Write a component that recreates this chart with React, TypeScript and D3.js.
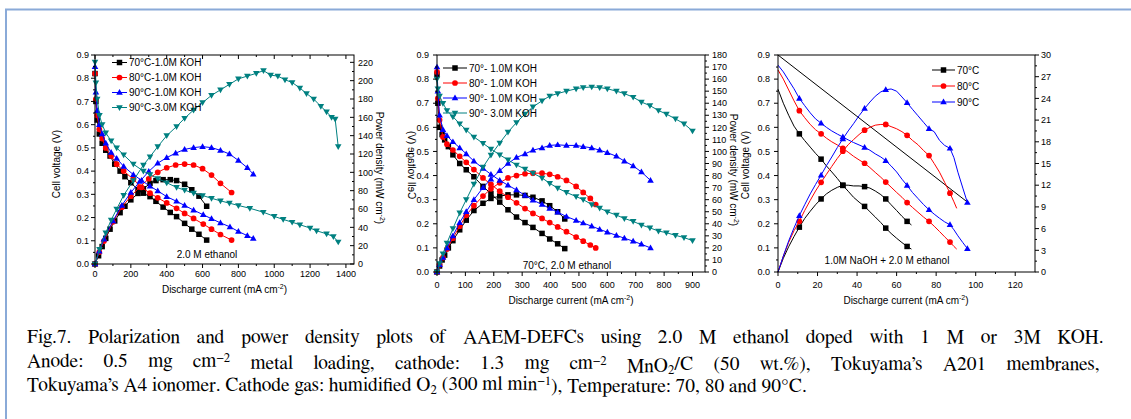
import React, { useLayoutEffect, useRef, useState } from "react";
import * as d3 from "d3";

type Pt = [number, number];
type MarkerKind = "square" | "circle" | "up" | "down";
type Seg = [string, "n" | "sup" | "sub"];

// ---------------- Panel 1 (2.0 M ethanol) ----------------
const P1_X_TICKS = [0, 200, 400, 600, 800, 1000, 1200, 1400];
const P1_P_TICKS = [0, 20, 40, 60, 80, 100, 120, 140, 160, 180, 200, 220];
const P1_LABELS = ["70°C-1.0M KOH", "80°C-1.0M KOH", "90°C-1.0M KOH", "90°C-3.0M KOH"];

const P1_70_V: Pt[] = [[0,0.82],[5,0.70],[12,0.62],[24,0.56],[40,0.52],[60,0.49],[84,0.465],[110,0.43],[140,0.40],[167,0.376],[200,0.35],[240,0.32],[270,0.305],[307,0.29],[340,0.27],[380,0.245],[420,0.222],[455,0.204],[500,0.175],[540,0.15],[580,0.128],[623,0.103]];
const P1_70_P: Pt[] = [[0,0],[20,9],[40,19],[60,28],[84,38],[110,47],[140,56],[167,63],[200,70],[240,77],[270,82],[307,88],[340,91],[380,92],[420,92],[455,91],[500,87],[540,81],[580,74],[623,63]];
const P1_80_V: Pt[] = [[0,0.82],[5,0.71],[12,0.64],[24,0.58],[40,0.54],[60,0.50],[90,0.465],[121,0.43],[160,0.40],[214,0.365],[260,0.33],[307,0.305],[350,0.285],[400,0.263],[455,0.24],[500,0.218],[550,0.196],[604,0.172],[650,0.15],[700,0.127],[762,0.103]];
const P1_80_P: Pt[] = [[0,0],[24,13],[50,25],[100,46],[150,62],[200,74],[250,84],[300,93],[350,100],[400,105],[450,108],[500,109],[550,108],[600,104],[650,97],[700,88],[762,78]];
const P1_90_V: Pt[] = [[0,0.85],[5,0.74],[12,0.66],[24,0.60],[40,0.56],[60,0.52],[90,0.48],[121,0.455],[160,0.42],[214,0.385],[260,0.36],[307,0.335],[350,0.315],[400,0.29],[455,0.27],[500,0.252],[550,0.232],[604,0.212],[650,0.195],[700,0.177],[753,0.16],[800,0.14],[850,0.122],[883,0.11]];
const P1_90_P: Pt[] = [[0,0],[24,14],[50,27],[100,47],[150,64],[200,78],[250,90],[300,101],[350,110],[400,116],[450,121],[500,125],[550,127],[600,128],[650,127],[700,124],[750,120],[800,113],[850,105],[883,98]];
const P1_90K3_V: Pt[] = [[0,0.87],[5,0.78],[12,0.71],[25,0.64],[40,0.60],[60,0.565],[90,0.53],[121,0.50],[160,0.47],[214,0.43],[270,0.40],[307,0.385],[350,0.368],[400,0.35],[455,0.33],[500,0.318],[550,0.305],[600,0.295],[650,0.283],[700,0.272],[750,0.262],[800,0.252],[864,0.24],[939,0.223],[1000,0.205],[1050,0.192],[1100,0.18],[1143,0.169],[1200,0.155],[1236,0.143],[1292,0.13],[1330,0.118],[1357,0.095]];
const P1_90K3_P: Pt[] = [[0,0],[25,16],[60,34],[90,48],[121,60],[160,75],[214,91],[270,108],[307,117],[350,128],[400,140],[455,150],[500,159],[550,168],[600,176],[650,184],[700,190],[750,196],[800,202],[850,205],[900,208],[940,211],[980,206],[1020,205],[1060,201],[1100,198],[1143,192],[1180,186],[1220,180],[1260,172],[1292,166],[1320,160],[1340,158],[1357,128]];

// ---------------- Panel 2 (70°C, 2.0 M ethanol) ----------------
const P2_X_TICKS = [0, 100, 200, 300, 400, 500, 600, 700, 800, 900];
const P2_P_TICKS = [0,10,20,30,40,50,60,70,80,90,100,110,120,130,140,150,160,170,180];
const P2_LABELS = ["70°- 1.0M KOH", "80°- 1.0M KOH", "90°- 1.0M KOH", "90°- 3.0M KOH"];

const P2_70_V: Pt[] = [[0,0.82],[3,0.70],[9,0.60],[18,0.57],[27,0.548],[40,0.52],[56,0.486],[80,0.45],[103,0.424],[130,0.395],[162,0.355],[190,0.325],[221,0.29],[250,0.258],[280,0.228],[310,0.205],[338,0.185],[370,0.16],[397,0.137],[425,0.117],[450,0.097]];
const P2_70_P: Pt[] = [[0,0],[9,5],[18,10],[27,14],[40,20],[56,26],[80,35],[103,43],[130,51],[162,57],[190,61],[221,63],[250,64],[280,64],[310,63.5],[338,62],[370,59],[397,55],[425,50],[450,44]];
const P2_80_V: Pt[] = [[0,0.83],[3,0.72],[9,0.63],[21,0.56],[35,0.53],[56,0.506],[80,0.48],[103,0.455],[130,0.425],[162,0.39],[190,0.363],[221,0.335],[250,0.31],[280,0.287],[310,0.263],[338,0.243],[370,0.222],[397,0.205],[425,0.187],[456,0.167],[490,0.145],[515,0.128],[540,0.112],[559,0.1]];
const P2_80_P: Pt[] = [[0,0],[9,6],[21,12],[35,19],[56,28],[80,38],[103,47],[130,55],[162,63],[190,69],[221,74],[250,78],[280,80],[310,81.5],[338,82],[370,82],[397,81],[425,79],[456,76],[490,71],[515,66],[540,61],[559,56]];
const P2_90_V: Pt[] = [[0,0.85],[3,0.75],[9,0.65],[21,0.59],[35,0.565],[56,0.54],[80,0.515],[103,0.49],[130,0.46],[162,0.43],[190,0.405],[221,0.38],[250,0.36],[280,0.34],[310,0.318],[338,0.298],[370,0.28],[397,0.264],[425,0.248],[456,0.23],[490,0.214],[515,0.203],[545,0.19],[573,0.177],[600,0.165],[632,0.152],[660,0.14],[691,0.128],[720,0.115],[752,0.1]];
const P2_90_P: Pt[] = [[0,0],[9,6],[21,12],[35,20],[56,30],[80,41],[103,50],[130,60],[162,70],[190,77],[221,84],[250,90],[280,95],[310,98],[338,101],[370,103],[397,105],[425,105.5],[456,105],[490,105],[515,104],[545,103],[573,101],[600,99],[632,96],[660,92],[691,88],[720,83],[752,76]];
const P2_90K3_V: Pt[] = [[0,0.80],[3,0.76],[9,0.73],[21,0.70],[35,0.67],[56,0.644],[80,0.615],[103,0.589],[130,0.56],[162,0.534],[190,0.51],[221,0.486],[250,0.465],[280,0.444],[310,0.427],[338,0.41],[370,0.39],[397,0.368],[425,0.348],[456,0.33],[490,0.313],[515,0.30],[545,0.28],[573,0.265],[600,0.25],[632,0.236],[660,0.222],[691,0.21],[720,0.195],[750,0.183],[780,0.17],[808,0.163],[840,0.152],[870,0.143],[900,0.13]];
const P2_90K3_P: Pt[] = [[0,0],[9,7],[21,15],[35,24],[56,36],[80,49],[103,60],[130,73],[162,87],[190,97],[221,107],[250,116],[280,124],[310,131],[338,137],[370,142],[397,146],[425,148],[456,150],[490,152],[515,153],[545,153.5],[573,153],[600,152],[632,150],[660,148],[691,145],[720,141],[750,138],[780,134],[808,131],[840,127],[870,123],[900,117]];

// ---------------- Panel 3 (1.0M NaOH + 2.0 M ethanol) ----------------
const P3_X_TICKS = [0, 20, 40, 60, 80, 100, 120];
const P3_P_TICKS = [0, 3, 6, 9, 12, 15, 18, 21, 24, 27, 30];
const P3_LABELS = ["70°C", "80°C", "90°C"];

const P3_70_V: Pt[] = [[0,0.758],[2.7,0.70],[5.4,0.65],[8.1,0.605],[10.8,0.573],[13.5,0.545],[16.3,0.518],[19,0.492],[21.8,0.468],[24.5,0.44],[27.2,0.415],[30,0.388],[32.8,0.359],[35.5,0.335],[38.2,0.31],[41,0.29],[43.8,0.272],[46.5,0.25],[49.2,0.228],[52,0.205],[54.5,0.182],[57.2,0.16],[60,0.14],[62.7,0.122],[65.3,0.106],[67.5,0.095]];
const P3_70_P: Pt[] = [[0,0],[2.7,1.9],[5.4,3.5],[8.1,4.9],[10.8,6.2],[13.5,7.4],[16.3,8.4],[19,9.3],[21.8,10.1],[24.5,10.8],[27.2,11.3],[30,11.7],[32.8,12.0],[35.5,12.0],[38.2,11.9],[41,11.9],[43.8,11.8],[46.5,11.6],[49.2,11.2],[52,10.7],[54.5,10.1],[57.2,9.3],[60,8.5],[62.7,7.7],[65.3,7.0],[67.5,6.5]];
const P3_80_V: Pt[] = [[0,0.838],[2.7,0.80],[5.4,0.755],[8.1,0.71],[10.8,0.669],[13.5,0.64],[16.3,0.612],[19,0.59],[21.8,0.573],[24.5,0.555],[27.2,0.54],[30,0.527],[32.8,0.513],[35.5,0.497],[38.2,0.48],[41,0.465],[43.8,0.451],[46.5,0.433],[49.2,0.413],[52,0.393],[54.5,0.373],[57.2,0.352],[60,0.33],[62.7,0.31],[65.3,0.288],[68,0.268],[70.8,0.248],[73.6,0.228],[76.4,0.21],[79,0.19],[81.7,0.168],[84.3,0.146],[87,0.124],[89,0.106],[90.4,0.095]];
const P3_80_P: Pt[] = [[0,0],[2.7,2.2],[5.4,4.1],[8.1,5.7],[10.8,7.0],[13.5,8.5],[16.3,9.9],[19,11.2],[21.8,12.4],[24.5,13.5],[27.2,14.6],[30,15.7],[32.8,16.7],[35.5,17.6],[38.2,18.3],[41,19.0],[43.8,19.6],[46.5,20.0],[49.2,20.3],[52,20.4],[54.5,20.4],[57.2,20.1],[60,19.8],[62.7,19.4],[65.3,18.9],[68,18.2],[70.8,17.6],[73.6,16.8],[76.4,16.1],[79,15.0],[81.7,13.8],[84.3,12.4],[87,10.9],[89,9.7],[90.4,8.8]];
const P3_90_V: Pt[] = [[0,0.858],[2.7,0.83],[5.4,0.795],[8.1,0.76],[10.8,0.72],[13.5,0.69],[16.3,0.66],[19,0.635],[21.8,0.617],[24.5,0.60],[27.2,0.585],[30,0.572],[32.8,0.56],[35.5,0.548],[38.2,0.537],[41,0.527],[43.8,0.517],[46.5,0.505],[49.2,0.49],[52,0.477],[54.5,0.462],[57.2,0.44],[60,0.415],[62.7,0.385],[65.3,0.359],[68,0.33],[70.8,0.305],[73.6,0.28],[76.4,0.258],[79,0.24],[81.7,0.223],[84.3,0.208],[87,0.196],[89,0.175],[91,0.15],[93.5,0.122],[95.8,0.097]];
const P3_90_P: Pt[] = [[0,0],[2.7,2.2],[5.4,4.3],[8.1,6.1],[10.8,7.8],[13.5,9.3],[16.3,10.8],[19,12.1],[21.8,13.4],[24.5,14.7],[27.2,15.9],[30,17.2],[32.8,18.4],[35.5,19.5],[38.2,20.5],[41,21.6],[43.8,22.6],[46.5,23.5],[49.2,24.3],[52,24.9],[54.5,25.2],[57.2,25.3],[60,25.0],[62.7,24.2],[65.3,23.4],[68,22.5],[70.8,21.6],[73.6,20.7],[76.4,19.8],[79,19.4],[81.7,18.2],[84.3,17.5],[87,17.1],[89,15.8],[91,13.8],[93.5,11.6],[95.8,9.6]];
const P3_DIAGONAL: Pt[] = [[0, 0.9], [95.8, 0.29]];

const V_TICKS = [0, 0.1, 0.2, 0.3, 0.4, 0.5, 0.6, 0.7, 0.8, 0.9];

// ---------------- Caption ----------------
const CAPTION_1: Seg[] = [["Fig.7. Polarization and power density plots of AAEM-DEFCs using 2.0 M ethanol doped with 1 M or 3M KOH.", "n"]];
const CAPTION_2: Seg[] = [["Anode: 0.5 mg cm", "n"], ["−2", "sup"], [" metal loading, cathode: 1.3 mg cm", "n"], ["−2", "sup"], [" MnO", "n"], ["2", "sub"], ["/C (50 wt.%), Tokuyama’s A201 membranes,", "n"]];
const CAPTION_3: Seg[] = [["Tokuyama’s A4 ionomer.  Cathode gas: humidified O", "n"], ["2", "sub"], [" (300 ml min", "n"], ["−1", "sup"], ["), Temperature: 70, 80 and 90°C.", "n"]];

const COLORS = ["#000000", "#ff0000", "#0000ff", "#008080"];
const KINDS: MarkerKind[] = ["square", "circle", "up", "down"];

const SANS = "'Liberation Sans', Arial, Helvetica, sans-serif";
const SERIF_CANDIDATES = ["Liberation Serif", "Times New Roman", "Tinos", "Times", "Nimbus Roman", "Nimbus Roman No9 L", "FreeSerif", "serif"];

interface Series { color: string; kind: MarkerKind; volt: Pt[]; power: Pt[]; }

interface PanelCfg {
  left: number; right: number; top: number; bottom: number;
  xMax: number; xTicks: number[]; xMinor: number;
  pMax: number; pTicks: number[]; pMinor: number;
  series: Series[];
  markerEvery: number; markerStart: number; markerSize: number;
  rightTickIn: boolean; topTicks: boolean;
  xLabelY: number; leftGap: number; rightGap: number;
  legendLabels: string[];
  legend: { x1: number; x2: number; xm: number; xt: number; y0: number; dy: number };
  note: { text: string; x: number; y: number };
  xTitle: { x: number; y: number };
  leftTitle: { x: number; y: number; mirrored: boolean };
  rightTitle: { x: number; y: number } | null;
  extraLine?: Pt[];
}

function Marker({ kind, x, y, color, s }: { kind: MarkerKind; x: number; y: number; color: string; s: number }) {
  if (kind === "circle") return <circle cx={x} cy={y} r={s * 0.52} fill={color} />;
  let d = "";
  if (kind === "square") d = `M${x - s / 2},${y - s / 2}h${s}v${s}h${-s}Z`;
  else if (kind === "up") d = `M${x},${y - s * 0.62}L${x + s * 0.6},${y + s * 0.42}L${x - s * 0.6},${y + s * 0.42}Z`;
  else d = `M${x},${y + s * 0.62}L${x + s * 0.6},${y - s * 0.42}L${x - s * 0.6},${y - s * 0.42}Z`;
  return <path d={d} fill={color} />;
}

function Panel({ cfg }: { cfg: PanelCfg }) {
  const x = d3.scaleLinear().domain([0, cfg.xMax]).range([cfg.left, cfg.right]);
  const yV = d3.scaleLinear().domain([0, 0.9]).range([cfg.bottom, cfg.top]);
  const yP = d3.scaleLinear().domain([0, cfg.pMax]).range([cfg.bottom, cfg.top]);
  const lineV = d3.line<Pt>().x((d) => x(d[0])).y((d) => yV(d[1]));
  const lineP = d3.line<Pt>().x((d) => x(d[0])).y((d) => yP(d[1]));
  const xMinorTicks = d3.range(cfg.xMinor, cfg.xMax, cfg.xMinor * 2);
  const vMinorTicks = d3.range(0.05, 0.9, 0.1);
  const pMinorTicks = d3.range(cfg.pMinor, cfg.pMax, cfg.pMinor * 2);
  const rDir = cfg.rightTickIn ? -1 : 1;
  const fmtV = d3.format(".1f");
  const lg = cfg.legend;
  const showMarker = (j: number) => j >= cfg.markerStart && (j - cfg.markerStart) % cfg.markerEvery === 0;

  return (
    <g fontFamily={SANS}>
      {cfg.extraLine && <path d={lineV(cfg.extraLine) || ""} fill="none" stroke="#000" strokeWidth={1} />}
      {cfg.series.map((s, i) => (
        <g key={i}>
          <path d={lineV(s.volt) || ""} fill="none" stroke={s.color} strokeWidth={1} />
          <path d={lineP(s.power) || ""} fill="none" stroke={s.color} strokeWidth={1} />
          {s.volt.map((d, j) =>
            showMarker(j) ? <Marker key={"v" + j} kind={s.kind} x={x(d[0])} y={yV(d[1])} color={s.color} s={cfg.markerSize} /> : null
          )}
          {s.power.map((d, j) =>
            showMarker(j) ? <Marker key={"p" + j} kind={s.kind} x={x(d[0])} y={yP(d[1])} color={s.color} s={cfg.markerSize} /> : null
          )}
        </g>
      ))}
      <rect x={cfg.left} y={cfg.top} width={cfg.right - cfg.left} height={cfg.bottom - cfg.top} fill="none" stroke="#000" strokeWidth={1} />
      {cfg.xTicks.map((t) => (
        <g key={"xt" + t}>
          <line x1={x(t)} x2={x(t)} y1={cfg.bottom} y2={cfg.bottom + 4} stroke="#000" />
          {cfg.topTicks && <line x1={x(t)} x2={x(t)} y1={cfg.top} y2={cfg.top + 4} stroke="#000" />}
          <text x={x(t)} y={cfg.xLabelY} fontSize={9} textAnchor="middle">{t}</text>
        </g>
      ))}
      {xMinorTicks.map((t) => (
        <g key={"xm" + t}>
          <line x1={x(t)} x2={x(t)} y1={cfg.bottom} y2={cfg.bottom + 2} stroke="#000" />
          {cfg.topTicks && <line x1={x(t)} x2={x(t)} y1={cfg.top} y2={cfg.top + 2} stroke="#000" />}
        </g>
      ))}
      {V_TICKS.map((t) => (
        <g key={"vt" + t}>
          <line x1={cfg.left - 4} x2={cfg.left} y1={yV(t)} y2={yV(t)} stroke="#000" />
          <text x={cfg.left - cfg.leftGap} y={yV(t) + 3.2} fontSize={9} textAnchor="end">{fmtV(t)}</text>
        </g>
      ))}
      {vMinorTicks.map((t) => (
        <line key={"vm" + t} x1={cfg.left - 2} x2={cfg.left} y1={yV(t)} y2={yV(t)} stroke="#000" />
      ))}
      {cfg.pTicks.map((t) => (
        <g key={"pt" + t}>
          <line x1={cfg.right} x2={cfg.right + 4 * rDir} y1={yP(t)} y2={yP(t)} stroke="#000" />
          <text x={cfg.right + cfg.rightGap} y={yP(t) + 3.2} fontSize={9} textAnchor="start">{t}</text>
        </g>
      ))}
      {pMinorTicks.map((t) => (
        <line key={"pm" + t} x1={cfg.right} x2={cfg.right + 2 * rDir} y1={yP(t)} y2={yP(t)} stroke="#000" />
      ))}
      {cfg.legendLabels.map((lab, i) => {
        const yy = lg.y0 + i * lg.dy;
        const s = cfg.series[i];
        return (
          <g key={"lg" + i}>
            <line x1={lg.x1} x2={lg.x2} y1={yy} y2={yy} stroke={s.color} strokeWidth={1} />
            <Marker kind={s.kind} x={lg.xm} y={yy} color={s.color} s={cfg.markerSize} />
            <text x={lg.xt} y={yy + 3.6} fontSize={10}>{lab}</text>
          </g>
        );
      })}
      <text x={cfg.note.x} y={cfg.note.y} fontSize={10} textAnchor="middle">{cfg.note.text}</text>
      <text x={cfg.xTitle.x} y={cfg.xTitle.y} fontSize={10} textAnchor="middle">
        <tspan>Discharge current (mA cm</tspan><tspan dy={-4} fontSize={7}>-2</tspan><tspan dy={4}>)</tspan>
      </text>
      <text
        transform={`translate(${cfg.leftTitle.x},${cfg.leftTitle.y}) ${cfg.leftTitle.mirrored ? "scale(-1,1) " : ""}rotate(-90)`}
        fontSize={10}
        textAnchor="middle"
        dy={3.5}
      >
        Cell voltage (V)
      </text>
      {cfg.rightTitle && (
        <text transform={`translate(${cfg.rightTitle.x},${cfg.rightTitle.y}) rotate(90)`} fontSize={10} textAnchor="middle" dy={3.5}>
          <tspan>Power density (mW cm</tspan><tspan dy={-4} fontSize={7}>-2</tspan><tspan dy={4}>)</tspan>
        </text>
      )}
    </g>
  );
}

const panel1: PanelCfg = {
  left: 95, right: 354, top: 55, bottom: 264,
  xMax: 1445, xTicks: P1_X_TICKS, xMinor: 100,
  pMax: 228, pTicks: P1_P_TICKS, pMinor: 10,
  series: [
    { color: COLORS[0], kind: KINDS[0], volt: P1_70_V, power: P1_70_P },
    { color: COLORS[1], kind: KINDS[1], volt: P1_80_V, power: P1_80_P },
    { color: COLORS[2], kind: KINDS[2], volt: P1_90_V, power: P1_90_P },
    { color: COLORS[3], kind: KINDS[3], volt: P1_90K3_V, power: P1_90K3_P },
  ],
  markerEvery: 1, markerStart: 0, markerSize: 5.5,
  rightTickIn: true, topTicks: true,
  xLabelY: 276.5, leftGap: 6, rightGap: 4,
  legendLabels: P1_LABELS,
  legend: { x1: 112, x2: 127, xm: 119.5, xt: 129, y0: 62.5, dy: 15 },
  note: { text: "2.0 M ethanol", x: 207, y: 258 },
  xTitle: { x: 224.5, y: 293 },
  leftTitle: { x: 56, y: 164, mirrored: false },
  rightTitle: { x: 379, y: 168 },
};

const panel2: PanelCfg = {
  left: 437, right: 705, top: 55, bottom: 272,
  xMax: 944, xTicks: P2_X_TICKS, xMinor: 50,
  pMax: 180, pTicks: P2_P_TICKS, pMinor: 5,
  series: [
    { color: COLORS[0], kind: KINDS[0], volt: P2_70_V, power: P2_70_P },
    { color: COLORS[1], kind: KINDS[1], volt: P2_80_V, power: P2_80_P },
    { color: COLORS[2], kind: KINDS[2], volt: P2_90_V, power: P2_90_P },
    { color: COLORS[3], kind: KINDS[3], volt: P2_90K3_V, power: P2_90K3_P },
  ],
  markerEvery: 1, markerStart: 0, markerSize: 5.5,
  rightTickIn: false, topTicks: false,
  xLabelY: 287.6, leftGap: 8, rightGap: 7,
  legendLabels: P2_LABELS,
  legend: { x1: 443, x2: 467, xm: 455, xt: 469, y0: 68, dy: 15 },
  note: { text: "70°C, 2.0 M ethanol", x: 567, y: 269 },
  xTitle: { x: 571, y: 304 },
  leftTitle: { x: 411, y: 165, mirrored: true },
  rightTitle: { x: 733.5, y: 170 },
};

const panel3: PanelCfg = {
  left: 778, right: 1035, top: 55, bottom: 272,
  xMax: 130, xTicks: P3_X_TICKS, xMinor: 10,
  pMax: 30, pTicks: P3_P_TICKS, pMinor: 1.5,
  series: [
    { color: COLORS[0], kind: KINDS[0], volt: P3_70_V, power: P3_70_P },
    { color: COLORS[1], kind: KINDS[1], volt: P3_80_V, power: P3_80_P },
    { color: COLORS[2], kind: KINDS[2], volt: P3_90_V, power: P3_90_P },
  ],
  markerEvery: 4, markerStart: 4, markerSize: 5.5,
  rightTickIn: false, topTicks: false,
  xLabelY: 287.6, leftGap: 8, rightGap: 6,
  legendLabels: P3_LABELS,
  legend: { x1: 932, x2: 955, xm: 943.5, xt: 957, y0: 70, dy: 16 },
  note: { text: "1.0M NaOH + 2.0 M ethanol", x: 887, y: 264 },
  xTitle: { x: 906, y: 304 },
  leftTitle: { x: 745, y: 165, mirrored: false },
  rightTitle: null,
  extraLine: P3_DIAGONAL,
};

const CAPTION_LINES = [CAPTION_1, CAPTION_2, CAPTION_3];
const CAPTION_BASELINES = [343, 367, 391];
const CAPTION_X = 27;
const CAPTION_TARGETS = [1077, 1073, 785]; // first two lines justified, last line natural
const CAPTION_FS = 19.6;

function segTspans(segs: Seg[]) {
  let cur = 0;
  return segs.map(([t, k], i) => {
    const target = k === "sup" ? -0.35 : k === "sub" ? 0.2 : 0;
    const dy = target - cur;
    cur = target;
    return (
      <tspan key={i} dy={`${dy}em`} fontSize={k === "n" ? undefined : "0.66em"}>
        {t}
      </tspan>
    );
  });
}

interface CapLayout { family: string; k: number; ws: number[]; }

function Caption() {
  const gRef = useRef<SVGGElement>(null);
  const [layout, setLayout] = useState<CapLayout | null>(null);
  useLayoutEffect(() => {
    if (layout || !gRef.current) return;
    const host = gRef.current;
    const NS = "http://www.w3.org/2000/svg";
    const measure = (family: string, segs: Seg[]) => {
      const t = document.createElementNS(NS, "text");
      t.setAttribute("font-family", family);
      t.setAttribute("font-size", String(CAPTION_FS));
      t.setAttribute("style", "white-space:pre");
      segs.forEach(([s, k]) => {
        const ts = document.createElementNS(NS, "tspan");
        if (k !== "n") ts.setAttribute("font-size", String(CAPTION_FS * 0.66));
        ts.textContent = s;
        t.appendChild(ts);
      });
      host.appendChild(t);
      const len = t.getComputedTextLength();
      host.removeChild(t);
      return len;
    };
    let best = SERIF_CANDIDATES[0];
    let bestLen = Infinity;
    SERIF_CANDIDATES.forEach((fam) => {
      const css = fam === "serif" ? "serif" : `'${fam}'`;
      const l = measure(css, CAPTION_3);
      if (l > 0 && l < bestLen - 0.5) {
        bestLen = l;
        best = fam;
      }
    });
    const famCss = best === "serif" ? "serif" : `'${best}', serif`;
    const lens = CAPTION_LINES.map((segs) => measure(famCss, segs));
    const k = Math.min(1.05, CAPTION_TARGETS[2] / lens[2]);
    const ws = CAPTION_LINES.map((segs, i) => {
      if (i === 2) return 0;
      const txt = segs.map((s) => s[0]).join("");
      const spaces = (txt.match(/ /g) || []).length;
      return Math.max(0, (CAPTION_TARGETS[i] / k - lens[i]) / spaces);
    });
    setLayout({ family: famCss, k, ws });
  });
  const k = layout ? layout.k : 1;
  return (
    <g
      ref={gRef}
      fontFamily={layout ? layout.family : "'Liberation Serif', serif"}
      fontSize={CAPTION_FS}
      fill="#000"
      style={{ whiteSpace: "pre" }}
      transform={`translate(${CAPTION_X},0) scale(${k},1)`}
    >
      {layout &&
        CAPTION_LINES.map((segs, i) => (
          <text key={i} x={0} y={CAPTION_BASELINES[i]} wordSpacing={layout.ws[i]}>
            {segTspans(segs)}
          </text>
        ))}
    </g>
  );
}

export default function App() {
  return (
    <svg width={1131} height={419} style={{ position: "absolute", left: 0, top: 0, background: "#fff" }}>
      <rect x={0} y={0} width={1131} height={419} fill="#fff" />
      <line x1={5} x2={1131} y1={9.5} y2={9.5} stroke="#8aaad8" strokeWidth={2} />
      <line x1={6} x2={6} y1={9} y2={419} stroke="#8aaad8" strokeWidth={2} />
      <Panel cfg={panel1} />
      <Panel cfg={panel2} />
      <Panel cfg={panel3} />
      <Caption />
    </svg>
  );
}
